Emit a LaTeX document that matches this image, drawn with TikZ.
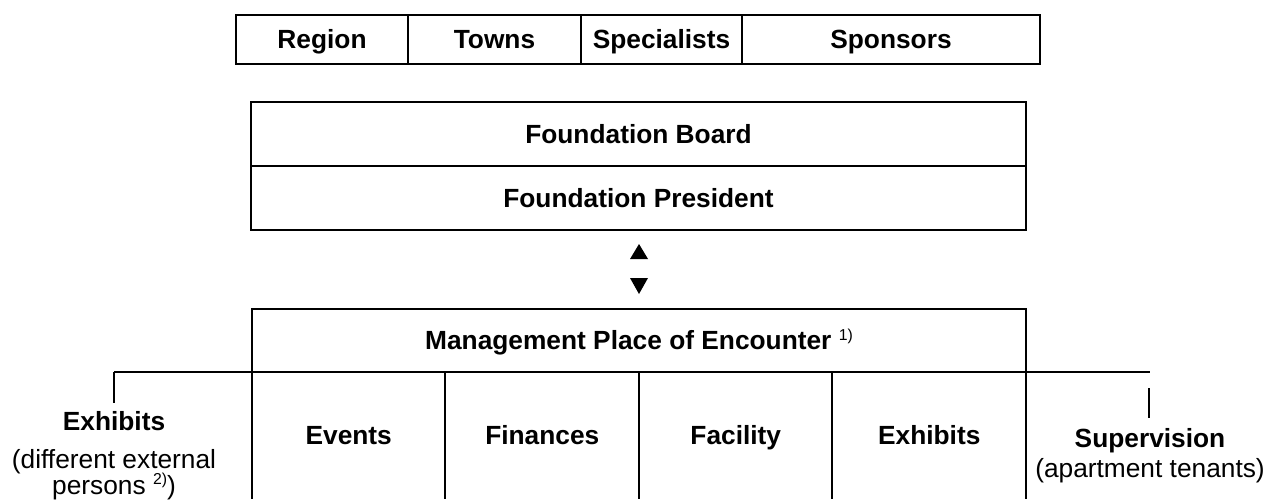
\documentclass[tikz,border=0pt]{standalone}
\usepackage{fontspec}
\setmainfont{Liberation Sans}
\newcommand\mysups[1]{\raisebox{0.35em}{\fontsize{15.8}{18}\selectfont\mdseries #1}}
\begin{document}
\begin{tikzpicture}[x=1pt,y=-1pt,
  cellfont/.style={font=\bfseries\fontsize{26.3}{30}\selectfont},
  cell/.style={cellfont, draw, line width=2pt, inner sep=0pt, text height=18.8pt, text depth=0pt},
  opencell/.style={cellfont, inner sep=0pt, text height=18.8pt, text depth=0pt},
  ln/.style={line width=2pt},
  thinln/.style={line width=1.5pt},
  boldtxt/.style={font=\bfseries\fontsize{26.3}{30}\selectfont, inner sep=0pt, anchor=base},
  regtxt/.style={font=\fontsize{26.3}{30}\selectfont, inner sep=0pt, anchor=base},
  tri/.style={fill=black}]
\useasboundingbox (0,0) rectangle (1277,499);
% top row
\node[cell, minimum width=172pt, minimum height=49pt] (region) at (322,39.5) {Region};
\node[cell, minimum width=173pt, minimum height=49pt] (towns) at (494.5,39.5) {Towns};
\node[cell, minimum width=161pt, minimum height=49pt] (spec) at (661.5,39.5) {Specialists};
\node[cell, minimum width=298pt, minimum height=49pt] (spons) at (891,39.5) {Sponsors};
% foundation
\node[cell, minimum width=775pt, minimum height=64pt] (board) at (638.5,134) {Foundation Board};
\node[cell, minimum width=775pt, minimum height=64pt] (pres) at (638.5,198) {Foundation President};
% arrows
\fill[tri] (630,259) -- (648,259) -- (639,244) -- cycle;
\fill[tri] (630,278) -- (648,278) -- (639,294) -- cycle;
% management
\node[cell, minimum width=774pt, minimum height=63pt] (mgmt) at (639,340.5) {Management Place of Encounter \mysups{1)}};
% bottom cells
\node[opencell, minimum width=193.5pt, minimum height=127pt] (ev) at (348.75,435.5) {Events};
\node[opencell, minimum width=193.5pt, minimum height=127pt] (fi) at (542.25,435.5) {Finances};
\node[opencell, minimum width=193.5pt, minimum height=127pt] (fa) at (735.75,435.5) {Facility};
\node[opencell, minimum width=193.5pt, minimum height=127pt] (ex) at (929.25,435.5) {Exhibits};
\draw[ln] (ev.north west) -- (ev.south west);
\draw[ln] (fi.north west) -- (fi.south west);
\draw[ln] (fa.north west) -- (fa.south west);
\draw[ln] (ex.north west) -- (ex.south west);
\draw[ln] (ex.north east) -- (ex.south east);
% horizontal line
\coordinate (hl) at (114,372);
\coordinate (hr) at (1150,372);
\draw[ln] (hl) -- (hr);
\coordinate (lb) at (114,403);
\draw[ln] (hl) -- (lb);
\coordinate (rt) at (1149,388);
\coordinate (rb) at (1149,418);
\draw[thinln] (rt) -- (rb);
% external texts
\node[boldtxt] (extl) at (114,430) {Exhibits};
\node[regtxt] (extl2) at (114,468) {(different external};
\node[regtxt] (extl3) at (114,494) {persons \mysups{2)})};
\node[boldtxt] (supv) at (1150,447) {Supervision};
\node[regtxt] (supv2) at (1150,477) {(apartment tenants)};
\end{tikzpicture}
\end{document}
